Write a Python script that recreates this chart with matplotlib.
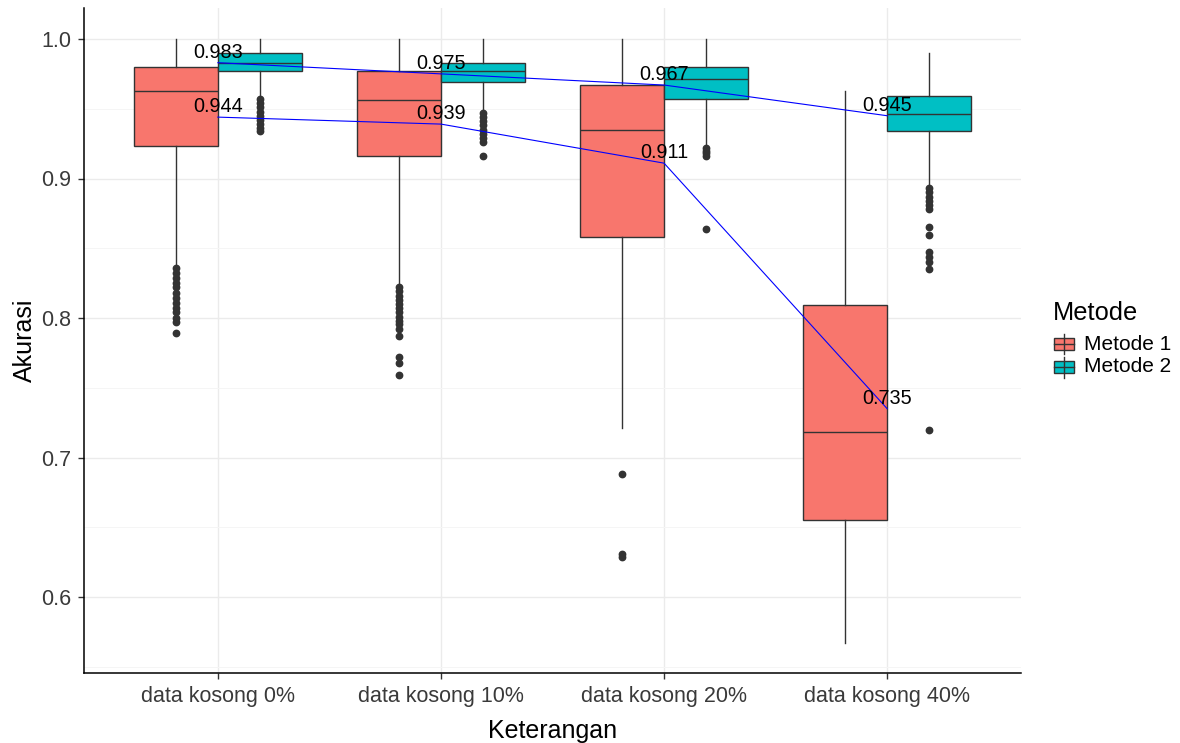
import matplotlib
matplotlib.use("Agg")
import matplotlib.pyplot as plt
from matplotlib.patches import Rectangle
from matplotlib.lines import Line2D

# ---------------- data ----------------
categories = ["data kosong 0%", "data kosong 10%", "data kosong 20%", "data kosong 40%"]
methods = ["Metode 1", "Metode 2"]
colors = ["#F8766D", "#00BFC4"]

m1_whishi = [1.000, 1.000, 1.000, 0.963]
m1_q3 = [0.980, 0.977, 0.967, 0.809]
m1_med = [0.963, 0.956, 0.935, 0.718]
m1_q1 = [0.923, 0.916, 0.858, 0.655]
m1_whislo = [0.839, 0.824, 0.721, 0.567]
m1_fliers = [
    [0.836, 0.832, 0.829, 0.825, 0.822, 0.818, 0.814, 0.811, 0.807, 0.804, 0.800, 0.797, 0.789],
    [0.822, 0.819, 0.816, 0.813, 0.810, 0.807, 0.804, 0.801, 0.798, 0.796, 0.792, 0.787, 0.772, 0.768, 0.759],
    [0.688, 0.631, 0.629],
    [],
]

m2_whishi = [1.000, 1.000, 1.000, 0.990]
m2_q3 = [0.990, 0.983, 0.980, 0.959]
m2_med = [0.983, 0.977, 0.971, 0.946]
m2_q1 = [0.977, 0.969, 0.957, 0.934]
m2_whislo = [0.959, 0.949, 0.925, 0.895]
m2_fliers = [
    [0.957, 0.954, 0.951, 0.948, 0.945, 0.942, 0.939, 0.936, 0.934],
    [0.947, 0.944, 0.941, 0.938, 0.935, 0.932, 0.929, 0.926, 0.916],
    [0.922, 0.920, 0.918, 0.916, 0.8635],
    [0.893, 0.890, 0.887, 0.884, 0.881, 0.878, 0.8655, 0.8595, 0.847, 0.844, 0.840, 0.835, 0.720],
]

means1 = [0.944, 0.939, 0.911, 0.735]
means2 = [0.983, 0.975, 0.967, 0.945]
mean_labels1 = ["0.944", "0.939", "0.911", "0.735"]
mean_labels2 = ["0.983", "0.975", "0.967", "0.945"]

yticks = [0.6, 0.7, 0.8, 0.9, 1.0]
ytick_labels = ["0.6", "0.7", "0.8", "0.9", "1.0"]
yminor = [0.55, 0.65, 0.75, 0.85, 0.95]

# ---------------- figure ----------------
plt.rcParams['font.family'] = ['Liberation Sans', 'DejaVu Sans']
W, H = 1180, 743
fig = plt.figure(figsize=(W / 100, H / 100), dpi=100)
fig.patch.set_facecolor("white")
ax = fig.add_axes([84 / W, 1 - 673 / H, (1021 - 84) / W, (673 - 8) / H])

x = list(range(1, len(categories) + 1))
offset = 0.1875
bw = 0.375


def make_stats(whislo, q1, med, q3, whishi, fliers):
    return [dict(whislo=a, q1=b, med=c, q3=d, whishi=e, fliers=f)
            for a, b, c, d, e, f in zip(whislo, q1, med, q3, whishi, fliers)]


edge = "#333333"
groups = [
    make_stats(m1_whislo, m1_q1, m1_med, m1_q3, m1_whishi, m1_fliers),
    make_stats(m2_whislo, m2_q1, m2_med, m2_q3, m2_whishi, m2_fliers),
]
for gi, (stats, col) in enumerate(zip(groups, colors)):
    pos = [xi + (-offset if gi == 0 else offset) for xi in x]
    ax.bxp(stats, positions=pos, widths=bw, patch_artist=True, showcaps=False,
           manage_ticks=False,
           boxprops=dict(facecolor=col, edgecolor=edge, linewidth=1.0),
           medianprops=dict(color=edge, linewidth=1.0),
           whiskerprops=dict(color=edge, linewidth=1.0),
           flierprops=dict(marker='o', markerfacecolor=edge, markeredgecolor=edge,
                           markersize=4.6, linestyle='none'),
           zorder=3)

# mean lines + labels
for means, labels in [(means1, mean_labels1), (means2, mean_labels2)]:
    ax.plot(x, means, color="blue", linewidth=0.8, zorder=4)
    for xi, m, lab in zip(x, means, labels):
        ax.annotate(lab, (xi, m), xytext=(0, 3.6), textcoords="offset points",
                    ha="center", va="baseline", fontsize=14.3, color="black", zorder=5)

# axes styling
ax.set_xlim(0.4, 4.6)
ax.set_ylim(1.0 - (673 - 39) / 1395, 1.0 + (39 - 8) / 1395)
ax.set_xticks(x)
ax.set_xticklabels(categories)
ax.set_yticks(yticks)
ax.set_yticklabels(ytick_labels)
ax.set_yticks(yminor, minor=True)
ax.tick_params(axis="y", which="minor", length=0)
ax.tick_params(axis="both", which="major", length=4.5, width=1.0, color="#333333",
               labelsize=15.5, labelcolor="#3A3A3A")
ax.tick_params(axis="x", pad=5)
ax.tick_params(axis="y", pad=4.5)
ax.grid(True, which="major", color="#EBEBEB", linewidth=1.0)
ax.grid(True, which="minor", axis="y", color="#F5F5F5", linewidth=0.7)
ax.set_axisbelow(True)
for s in ["top", "right"]:
    ax.spines[s].set_visible(False)
for s in ["left", "bottom"]:
    ax.spines[s].set_color("black")
    ax.spines[s].set_linewidth(1.1)

ax.set_xlabel("Keterangan", fontsize=18, color="black")
ax.xaxis.label.set_va("center")
ax.xaxis.set_label_coords(0.5, (673 - 731) / 665)
ax.set_ylabel("Akurasi", fontsize=18, color="black")
ax.yaxis.label.set_va("center")
ax.yaxis.set_label_coords((25 - 84) / 937, 0.5)


# ---------------- legend (drawn in figure pixels) ----------------
def fx(px):
    return px / W


def fy(py):
    return 1 - py / H


fig.text(fx(1053), fy(313), "Metode", fontsize=18.3, ha="left", va="center", color="black")
key_centers = [344, 367]
for name, col, cy in zip(methods, colors, key_centers):
    fig.add_artist(Line2D([fx(1064), fx(1064)], [fy(cy - 10.5), fy(cy + 10.5)],
                          transform=fig.transFigure, color=edge, linewidth=1.0))
    fig.add_artist(Rectangle((fx(1054), fy(cy + 6)), (1074 - 1054) / W, 12 / H,
                             transform=fig.transFigure, facecolor=col,
                             edgecolor=edge, linewidth=1.0))
    fig.add_artist(Line2D([fx(1054), fx(1074)], [fy(cy), fy(cy)],
                          transform=fig.transFigure, color=edge, linewidth=1.0))
    fig.text(fx(1084), fy(cy), name, fontsize=15, ha="left", va="center", color="black")

fig.savefig("out.png", dpi=100)
